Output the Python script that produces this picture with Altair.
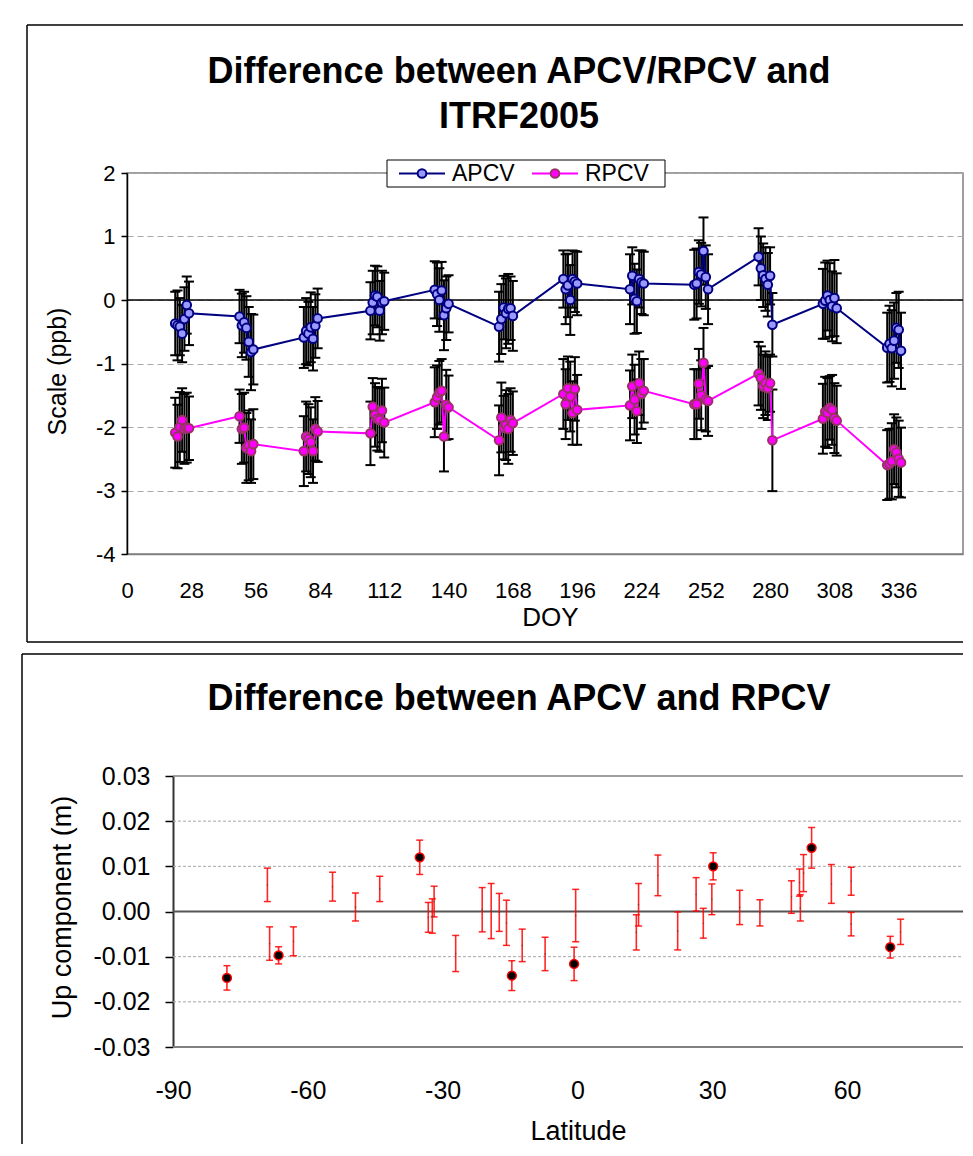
import altair as alt
import pandas as pd

FONT = "Liberation Sans"

# ---------------- top panel data ----------------
series_names = ["APCV", "RPCV"]
doy = [21, 22, 23, 24, 25, 26, 27,
       49, 50, 51, 52, 53, 54, 55,
       77, 78, 79, 80, 81, 82, 83,
       106, 107, 108, 109, 110, 111, 112,
       134, 135, 136, 137, 138, 139, 140,
       162, 163, 164, 165, 166, 167, 168,
       190, 191, 192, 193, 194, 195, 196,
       219, 220, 221, 222, 223, 224, 225,
       247, 248, 249, 250, 251, 252, 253,
       275, 276, 277, 278, 279, 280, 281,
       303, 304, 305, 306, 307, 308, 309,
       331, 332, 333, 334, 335, 336, 337]
apcv = [-0.37, -0.40, -0.42, -0.53, -0.30, -0.08, -0.21,
        -0.26, -0.40, -0.35, -0.44, -0.66, -0.82, -0.78,
        -0.59, -0.49, -0.53, -0.43, -0.61, -0.41, -0.29,
        -0.17, -0.04, 0.07, 0.05, -0.17, -0.04, -0.02,
        0.16, 0.09, 0.00, 0.15, -0.24, -0.13, -0.06,
        -0.42, -0.30, -0.12, -0.21, -0.14, -0.13, -0.25,
        0.33, 0.17, 0.23, 0.00, 0.33, 0.29, 0.26,
        0.17, 0.38, 0.02, -0.02, 0.33, 0.28, 0.26,
        0.24, 0.26, 0.44, 0.40, 0.77, 0.36, 0.17,
        0.68, 0.50, 0.39, 0.33, 0.24, 0.38, -0.39,
        -0.06, -0.01, 0.07, 0.00, -0.10, 0.03, -0.13,
        -0.75, -0.69, -0.76, -0.64, -0.44, -0.47, -0.80]
apcv_err = [0.50, 0.55, 0.45, 0.45, 0.50, 0.45, 0.50,
            0.42, 0.50, 0.48, 0.50, 0.55, 0.60, 0.55,
            0.48, 0.52, 0.50, 0.55, 0.50, 0.50, 0.47,
            0.45, 0.50, 0.47, 0.48, 0.47, 0.50, 0.45,
            0.45, 0.50, 0.50, 0.45, 0.55, 0.50, 0.45,
            0.55, 0.55, 0.50, 0.55, 0.55, 0.50, 0.55,
            0.45, 0.55, 0.50, 0.55, 0.45, 0.48, 0.50,
            0.55, 0.45, 0.55, 0.50, 0.45, 0.50, 0.50,
            0.55, 0.55, 0.50, 0.50, 0.53, 0.50, 0.55,
            0.45, 0.50, 0.50, 0.50, 0.50, 0.45, 0.50,
            0.55, 0.60, 0.55, 0.58, 0.55, 0.60, 0.55,
            0.55, 0.60, 0.60, 0.60, 0.55, 0.60, 0.60]
rpcv = [-2.09, -2.15, -2.00, -1.89, -2.03, -2.01, -2.02,
        -1.83, -2.03, -2.01, -2.33, -2.29, -2.38, -2.27,
        -2.38, -2.15, -2.19, -2.24, -2.38, -2.03, -2.07,
        -2.10, -1.68, -1.81, -1.87, -1.89, -1.74, -1.93,
        -1.61, -1.53, -1.46, -1.43, -2.15, -1.65, -1.69,
        -2.21, -1.85, -2.01, -1.97, -2.03, -1.89, -1.94,
        -1.48, -1.64, -1.39, -1.52, -1.78, -1.40, -1.73,
        -1.66, -1.36, -1.57, -1.75, -1.31, -1.48, -1.43,
        -1.64, -1.64, -1.32, -1.50, -0.99, -1.57, -1.59,
        -1.16, -1.23, -1.36, -1.31, -1.39, -1.31, -2.21,
        -1.87, -1.76, -1.78, -1.70, -1.73, -1.86, -1.90,
        -2.60, -2.58, -2.54, -2.35, -2.40, -2.50, -2.56]
rpcv_err = [0.55, 0.50, 0.55, 0.50, 0.55, 0.55, 0.50,
            0.42, 0.55, 0.55, 0.55, 0.55, 0.50, 0.55,
            0.55, 0.55, 0.55, 0.55, 0.50, 0.50, 0.48,
            0.50, 0.45, 0.50, 0.50, 0.50, 0.50, 0.55,
            0.55, 0.50, 0.50, 0.50, 0.55, 0.55, 0.50,
            0.55, 0.55, 0.50, 0.55, 0.55, 0.50, 0.50,
            0.55, 0.55, 0.50, 0.55, 0.50, 0.50, 0.55,
            0.55, 0.50, 0.55, 0.50, 0.50, 0.55, 0.50,
            0.55, 0.55, 0.55, 0.55, 0.55, 0.50, 0.55,
            0.50, 0.50, 0.50, 0.50, 0.50, 0.45, 0.80,
            0.55, 0.55, 0.55, 0.50, 0.55, 0.55, 0.55,
            0.55, 0.55, 0.60, 0.55, 0.55, 0.60, 0.55]
doy_ticks = [0, 28, 56, 84, 112, 140, 168, 196, 224, 252, 280, 308, 336]
scale_ticks = [-4, -3, -2, -1, 0, 1, 2]
top_title = ["Difference between APCV/RPCV and", "ITRF2005"]

# ---------------- bottom panel data ----------------
lat = [-78.0, -69.0, -68.5, -66.5, -63.2, -54.5, -49.4, -44.0, -35.1, -33.2,
       -32.3, -31.9, -27.1, -21.2, -19.2, -17.4, -15.8, -14.6, -12.3, -7.2,
       -0.75, -0.4, 13.6, 13.1, 17.9, 22.3, 26.4, 28.0, 29.9, 30.2,
       36.1, 40.6, 47.6, 49.4, 49.6, 50.3, 52.1, 56.5, 60.9, 60.9,
       69.6, 71.9]
up = [-0.0147, 0.0059, -0.0071, -0.0097, -0.0066, 0.0055, 0.0010, 0.0050, 0.0120, -0.0013,
      -0.0010, 0.0022, -0.0093, 0.0004, 0.0001, -0.0002, -0.0025, -0.0142, -0.0075, -0.0094,
      -0.0116, -0.0009, 0.0015, -0.0046, 0.0080, -0.0043, 0.0038, -0.0026, 0.0027, 0.0100,
      0.0009, -0.0003, 0.0032, 0.0064, 0.0008, 0.0085, 0.0141, 0.0061, 0.0067, -0.0028,
      -0.0079, -0.0045]
up_err = [0.0027, 0.0037, 0.0037, 0.0019, 0.0032, 0.0032, 0.0031, 0.0028, 0.0038, 0.0033,
          0.0038, 0.0034, 0.0040, 0.0049, 0.0061, 0.0042, 0.0050, 0.0033, 0.0036, 0.0037,
          0.0037, 0.0058, 0.0047, 0.0039, 0.0045, 0.0042, 0.0037, 0.0033, 0.0034, 0.0030,
          0.0038, 0.0029, 0.0036, 0.0030, 0.0029, 0.0041, 0.0045, 0.0043, 0.0031, 0.0026,
          0.0024, 0.0028]
marked = [1, 0, 0, 1, 0, 0, 0, 0, 1, 0,
          0, 0, 0, 0, 0, 0, 0, 1, 0, 0,
          1, 0, 0, 0, 0, 0, 0, 0, 0, 1,
          0, 0, 0, 0, 0, 0, 1, 0, 0, 0,
          1, 0]
lat_ticks = [-90, -60, -30, 0, 30, 60]
up_ticks = [-0.03, -0.02, -0.01, 0.0, 0.01, 0.02, 0.03]
up_grid = [-0.02, -0.01, 0.01, 0.02]
bottom_title = "Difference between APCV and RPCV"

# ---------------- styles ----------------
line_colors = ["#000080", "#ff00ff"]
marker_fill = ["#9999ff", "#ff00ff"]
marker_edge = ["#000080", "#993366"]

top_df = pd.concat([
    pd.DataFrame({"series": "APCV", "doy": doy, "value": apcv, "err": apcv_err}),
    pd.DataFrame({"series": "RPCV", "doy": doy, "value": rpcv, "err": rpcv_err}),
], ignore_index=True)
top_df["lo"] = top_df["value"] - top_df["err"]
top_df["hi"] = top_df["value"] + top_df["err"]

bot_df = pd.DataFrame({"lat": lat, "up": up, "err": up_err, "marked": marked})
bot_df["lo"] = bot_df["up"] - bot_df["err"]
bot_df["hi"] = bot_df["up"] + bot_df["err"]

one = pd.DataFrame({"k": [0]})
zero = pd.DataFrame({"v": [0.0]})

W = 836            # plot width of both panels (px)
TH = 381           # top plot height
BH = 271           # bottom plot height
PX_PER_DEG = 4.494
AX_SHIFT = 46      # bottom y axis sits this far right of the panel origin
LAT_MIN = -90 - AX_SHIFT / PX_PER_DEG
LAT_MAX = LAT_MIN + W / PX_PER_DEG


def rule_px(x1, y1, x2=None, y2=None, color="black", width=1.5, opacity=1):
    enc = {"x": alt.value(x1), "y": alt.value(y1)}
    if x2 is not None:
        enc["x2"] = alt.value(x2)
    if y2 is not None:
        enc["y2"] = alt.value(y2)
    return alt.Chart(one).mark_rule(color=color, strokeWidth=width,
                                    strokeOpacity=opacity).encode(**enc)


def text_px(txt, x, y, size=36, weight="bold", align="center", baseline="alphabetic"):
    return alt.Chart(one).mark_text(text=txt, font=FONT, fontSize=size, fontWeight=weight,
                                    align=align, baseline=baseline,
                                    color="black").encode(x=alt.value(x), y=alt.value(y))


def point_px(x, y, fill, stroke):
    return alt.Chart(one).mark_point(filled=True, fill=fill, stroke=stroke, size=75,
                                     strokeWidth=2, opacity=1).encode(
        x=alt.value(x), y=alt.value(y))


# ---------------- top panel ----------------
x_axis_top = alt.Axis(values=doy_ticks, title="DOY", labelFontSize=22, titleFontSize=26,
                      titleFontWeight="normal", ticks=False, grid=False,
                      domainColor="#808080", domainWidth=1.5, labelPadding=26,
                      titleX=423, titleY=63, titleBaseline="middle", labelFlush=False,
                      labelOverlap=False)
y_axis_top = alt.Axis(values=scale_ticks, title="Scale (ppb)", labelFontSize=22,
                      labelExpr="toString(datum.value)",
                      titleFontSize=25, titleFontWeight="normal", tickSize=6,
                      tickColor="black", tickWidth=1.5, domainColor="black",
                      domainWidth=1.5, grid=True, gridDash=[6, 4], gridColor="#a8a8a8",
                      gridWidth=1, labelPadding=6, titleX=-70, titleY=198,
                      titleAngle=270, titleAlign="center", titleBaseline="middle")


def xt(field):
    return alt.X(field, scale=alt.Scale(domain=[0, 364], nice=False, zero=False),
                 axis=x_axis_top)


def yt(field):
    return alt.Y(field, scale=alt.Scale(domain=[-4, 2], nice=False, zero=False),
                 axis=y_axis_top)


top_zero = alt.Chart(zero).mark_rule(color="black", strokeWidth=1.5).encode(y=yt("v:Q"))
top_bars = alt.Chart(top_df).mark_rule(color="black", strokeWidth=2).encode(
    x=xt("doy:Q"), y=yt("lo:Q"), y2="hi:Q")
top_cap_hi = alt.Chart(top_df).mark_tick(orient="horizontal", size=10, thickness=2,
                                         color="black", opacity=1).encode(
    x=xt("doy:Q"), y=yt("hi:Q"))
top_cap_lo = alt.Chart(top_df).mark_tick(orient="horizontal", size=10, thickness=2,
                                         color="black", opacity=1).encode(
    x=xt("doy:Q"), y=yt("lo:Q"))
top_line = alt.Chart(top_df).mark_line(strokeWidth=2).encode(
    x=xt("doy:Q"), y=yt("value:Q"),
    color=alt.Color("series:N", scale=alt.Scale(domain=series_names, range=line_colors),
                    legend=None))
top_pts = alt.Chart(top_df).mark_point(filled=True, size=75, strokeWidth=2, opacity=1).encode(
    x=xt("doy:Q"), y=yt("value:Q"),
    fill=alt.Fill("series:N", scale=alt.Scale(domain=series_names, range=marker_fill),
                  legend=None),
    stroke=alt.Stroke("series:N", scale=alt.Scale(domain=series_names, range=marker_edge),
                      legend=None))

# legend box (drawn by hand, positioned relative to the plot origin)
legend_box = alt.Chart(one).mark_rect(fill="white", stroke="black", strokeWidth=1).encode(
    x=alt.value(260), x2=alt.value(538), y=alt.value(-13), y2=alt.value(14))
legend_parts = [legend_box]
for i, name in enumerate(series_names):
    x0 = 272 + i * 133
    legend_parts += [
        rule_px(x0, 0.5, x2=x0 + 46, color=line_colors[i], width=2),
        point_px(x0 + 23, 0.5, marker_fill[i], marker_edge[i]),
        text_px(name, x0 + 53, 1, size=23, weight="normal", align="left",
                baseline="middle"),
    ]

top_decor = [
    rule_px(-100, -148, x2=W),              # frame top
    rule_px(-100, -148, y2=469),            # frame left
    rule_px(-100, 469, x2=W),               # frame bottom
    rule_px(-105, 0, y2=5, opacity=0),      # invisible: aligns left bounds
    text_px(top_title[0], 392, -90),
    text_px(top_title[1], 392, -45),
]

top = alt.layer(top_zero, top_bars, top_cap_hi, top_cap_lo, top_line, top_pts,
                *legend_parts, *top_decor).properties(width=W, height=TH)

# ---------------- bottom panel ----------------
x_axis_bot = alt.Axis(values=lat_ticks, title="Latitude", labelFontSize=25, titleFontSize=27,
                      titleFontWeight="normal", ticks=False, grid=False, domain=False,
                      labelPadding=31, titleX=451, titleY=84, titleBaseline="middle",
                      labelFlush=False, labelOverlap=False,
                      labelExpr="toString(datum.value)")
y_axis_bot = alt.Axis(values=up_ticks, title="Up component (m)",
                      labelExpr="datum.value < 0 ? '-' + format(-datum.value, '.2f') : format(datum.value, '.2f')",
                      labelFontSize=25, titleFontSize=27, titleFontWeight="normal",
                      tickSize=8, tickColor="black", tickWidth=1.5, domainColor="#333333",
                      domainWidth=2, grid=False, labelPadding=15, offset=-AX_SHIFT,
                      titleX=-111, titleY=131, titleAngle=270, titleAlign="center",
                      titleBaseline="middle")


def xb(field):
    return alt.X(field, scale=alt.Scale(domain=[LAT_MIN, LAT_MAX], nice=False, zero=False),
                 axis=x_axis_bot)


def yb(field):
    return alt.Y(field, scale=alt.Scale(domain=[-0.03, 0.03], nice=False, zero=False),
                 axis=y_axis_bot)


grid_df = pd.DataFrame({"y": up_grid, "x1": -90.0, "x2": LAT_MAX})
edge_df = pd.DataFrame({"y": [0.03], "x1": -90.0, "x2": LAT_MAX})
base_df = pd.DataFrame({"y": [-0.03], "x1": -90.0, "x2": LAT_MAX})
zline_df = pd.DataFrame({"y": [0.0], "x1": -90.0, "x2": LAT_MAX})

bot_grid = alt.Chart(grid_df).mark_rule(color="#a8a8a8", strokeWidth=1, strokeDash=[3, 2]).encode(
    x=xb("x1:Q"), x2="x2:Q", y=yb("y:Q"))
bot_edge = alt.Chart(edge_df).mark_rule(color="#808080", strokeWidth=1.5).encode(
    x=xb("x1:Q"), x2="x2:Q", y=yb("y:Q"))
bot_base = alt.Chart(base_df).mark_rule(color="#808080", strokeWidth=2).encode(
    x=xb("x1:Q"), x2="x2:Q", y=yb("y:Q"))
bot_zero = alt.Chart(zline_df).mark_rule(color="#555555", strokeWidth=2).encode(
    x=xb("x1:Q"), x2="x2:Q", y=yb("y:Q"))
bot_bars = alt.Chart(bot_df).mark_rule(color="#ff0000", strokeWidth=1.6, opacity=0.85).encode(
    x=xb("lat:Q"), y=yb("lo:Q"), y2="hi:Q")
bot_cap_hi = alt.Chart(bot_df).mark_tick(orient="horizontal", size=7, thickness=1.5,
                                         color="#ff0000", opacity=0.85).encode(
    x=xb("lat:Q"), y=yb("hi:Q"))
bot_cap_lo = alt.Chart(bot_df).mark_tick(orient="horizontal", size=7, thickness=1.5,
                                         color="#ff0000", opacity=0.85).encode(
    x=xb("lat:Q"), y=yb("lo:Q"))
bot_tiny = alt.Chart(bot_df).transform_filter("datum.marked == 0").mark_point(
    filled=True, size=3, color="#444444", opacity=0.6).encode(x=xb("lat:Q"), y=yb("up:Q"))
bot_dots = alt.Chart(bot_df).transform_filter("datum.marked == 1").mark_point(
    filled=True, fill="black", stroke="#ff0000", size=78, strokeWidth=1.5, opacity=1).encode(
    x=xb("lat:Q"), y=yb("up:Q"))

bot_decor = [
    rule_px(-105, -122, x2=W),              # frame top
    rule_px(-105, -122, y2=368),            # frame left
    text_px(bottom_title, 392, -66),
]

bottom = alt.layer(bot_grid, bot_edge, bot_base, bot_zero, bot_bars, bot_cap_hi,
                   bot_cap_lo, bot_tiny, bot_dots, *bot_decor).properties(
    width=W, height=BH, view=alt.ViewBackground(stroke="transparent"))

chart = alt.vconcat(top, bottom, spacing=8).properties(
    padding={"left": 12, "top": 15, "right": 0, "bottom": 0}
).resolve_scale(
    color="independent", fill="independent", stroke="independent"
).configure_view(
    stroke="#808080", strokeWidth=1.5
).configure_axis(
    labelFont=FONT, titleFont=FONT, labelColor="black", titleColor="black"
)

chart.save("out.html", embed_options={"renderer": "svg", "actions": False})
